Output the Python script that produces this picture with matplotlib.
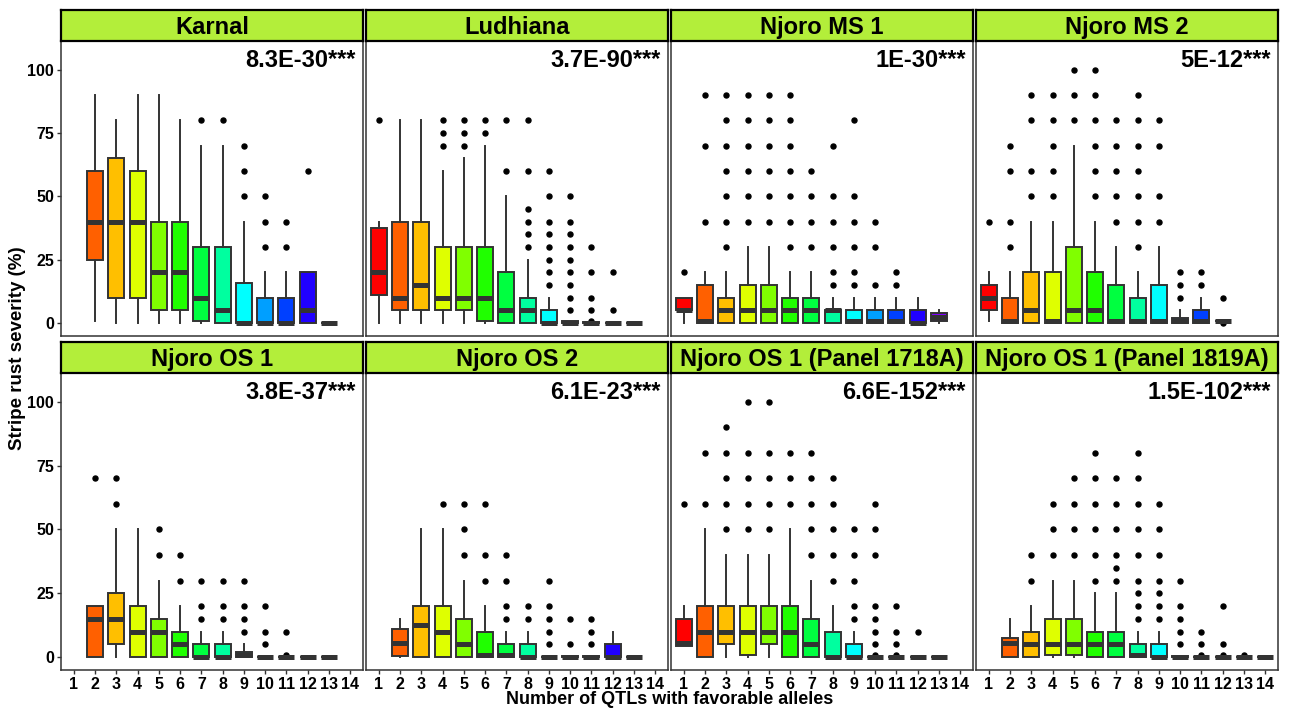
import matplotlib
matplotlib.use("Agg")
import matplotlib.pyplot as plt

plt.rcParams['font.family'] = ['Liberation Sans', 'DejaVu Sans']
plt.rcParams['font.weight'] = 'bold'

# fill colour for each number of favorable alleles (1..14)
GROUP_COLORS = ["#FF0000", "#FF6000", "#FFBF00", "#DFFF00", "#80FF00", "#20FF00", "#00FF40",
                "#00FF9F", "#00FFFF", "#009FFF", "#0040FF", "#2000FF", "#8000FF", "#DF00FF"]

PANEL_TITLES = ["Karnal", "Ludhiana", "Njoro MS 1", "Njoro MS 2",
                "Njoro OS 1", "Njoro OS 2", "Njoro OS 1 (Panel 1718A)", "Njoro OS 1 (Panel 1819A)"]
P_VALUES = ["8.3E-30***", "3.7E-90***", "1E-30***", "5E-12***",
            "3.8E-37***", "6.1E-23***", "6.6E-152***", "1.5E-102***"]

# rows: (n QTLs, whisker low, q1, median, q3, whisker high, outliers)
KARNAL = [
    (2, 1, 25, 40, 60, 90, []),
    (3, 0, 10, 40, 65, 80, []),
    (4, 0, 10, 40, 60, 90, []),
    (5, 0, 5, 20, 40, 90, []),
    (6, 0, 5, 20, 40, 80, []),
    (7, 0, 1, 10, 30, 70, [80]),
    (8, 0, 0, 5, 30, 70, [80]),
    (9, 0, 0, 0, 16, 40, [50, 60, 70]),
    (10, 0, 0, 0, 10, 20, [30, 40, 50]),
    (11, 0, 0, 0, 10, 20, [30, 40]),
    (12, 0, 0, 5, 20, 20, [60]),
    (13, 0, 0, 0, 0, 0, []),
]
LUDHIANA = [
    (1, 0, 11, 20, 37.5, 40, [80]),
    (2, 0, 5, 10, 40, 80, []),
    (3, 0, 5, 15, 40, 80, []),
    (4, 0, 5, 10, 30, 60, [70, 75, 80]),
    (5, 0, 5, 10, 30, 65, [70, 75, 80]),
    (6, 0, 1, 10, 30, 70, [75, 80]),
    (7, 0, 0, 5, 20, 50, [60, 80]),
    (8, 0, 0, 5, 10, 25, [30, 35, 40, 45, 60, 80]),
    (9, 0, 0, 0, 5, 10, [15, 20, 25, 30, 35, 40, 50, 60]),
    (10, 0, 0, 0, 1, 1, [5, 10, 15, 20, 25, 30, 35, 40, 50]),
    (11, 0, 0, 0, 0.5, 0.5, [1, 5, 10, 20, 30]),
    (12, 0, 0, 0, 0, 0, [5, 20]),
    (13, 0, 0, 0, 0, 0, []),
]
NJORO_MS1 = [
    (1, 0, 5, 5, 10, 10, [20]),
    (2, 0, 0, 1, 15, 20, [40, 70, 90]),
    (3, 0, 0, 5, 10, 20, [30, 40, 50, 60, 70, 80, 90]),
    (4, 0, 0, 5, 15, 30, [40, 50, 60, 70, 80, 90]),
    (5, 0, 0, 5, 15, 30, [40, 50, 60, 70, 80, 90]),
    (6, 0, 0, 5, 10, 20, [30, 40, 50, 60, 70, 80, 90]),
    (7, 0, 0, 5, 10, 20, [30, 40, 50, 60]),
    (8, 0, 0, 5, 5, 10, [15, 20, 30, 40, 50, 70]),
    (9, 0, 0, 1, 5, 10, [15, 20, 30, 40, 50, 80]),
    (10, 0, 0, 1, 5, 10, [15, 30, 40]),
    (11, 0, 0, 1, 5, 10, [15, 20]),
    (12, 0, 0, 0, 5, 10, []),
    (13, 0, 1, 2.5, 4, 5, []),
]
NJORO_MS2 = [
    (1, 1, 5, 10, 15, 20, [40]),
    (2, 0, 0, 1, 10, 20, [30, 40, 60, 70]),
    (3, 0, 0, 5, 20, 40, [50, 60, 80, 90]),
    (4, 0, 0, 1, 20, 40, [50, 60, 70, 80, 90]),
    (5, 0, 0, 5, 30, 70, [80, 90, 100]),
    (6, 0, 0, 5, 20, 40, [50, 60, 70, 80, 90, 100]),
    (7, 0, 0, 1, 15, 30, [40, 50, 60, 70, 80]),
    (8, 0, 0, 1, 10, 20, [30, 40, 50, 60, 70, 80, 90]),
    (9, 0, 0, 1, 15, 30, [40, 50, 70, 80]),
    (10, 0, 0, 1, 2, 5, [10, 15, 20]),
    (11, 0, 0, 1, 5, 10, [15, 20]),
    (12, 1, 1, 1, 1, 1, [0, 10]),
]
NJORO_OS1 = [
    (2, 0, 0, 15, 20, 20, [70]),
    (3, 0, 5, 15, 25, 50, [60, 70]),
    (4, 0, 0, 10, 20, 50, []),
    (5, 0, 0, 10, 15, 30, [40, 50]),
    (6, 0, 0, 5, 10, 20, [30, 40]),
    (7, 0, 0, 0, 5, 10, [15, 20, 30]),
    (8, 0, 0, 0, 5, 10, [15, 20, 30]),
    (9, 0, 0, 1, 2, 5, [10, 15, 20, 30]),
    (10, 0, 0, 0, 0, 0, [5, 10, 20]),
    (11, 0, 0, 0, 0, 0, [1, 10]),
    (12, 0, 0, 0, 0, 0, []),
    (13, 0, 0, 0, 0, 0, []),
]
NJORO_OS2 = [
    (2, 0, 0.5, 5.5, 11, 15, []),
    (3, 0, 0, 12.5, 20, 50, []),
    (4, 0, 0, 10, 20, 50, [60]),
    (5, 0, 0, 5, 15, 30, [40, 50, 60]),
    (6, 0, 0, 1, 10, 20, [30, 40, 60]),
    (7, 0, 0, 1, 5, 10, [15, 20, 30, 40]),
    (8, 0, 0, 0, 5, 10, [15, 20]),
    (9, 0, 0, 0, 0, 0, [5, 10, 15, 20, 30]),
    (10, 0, 0, 0, 0.5, 0.5, [5, 15]),
    (11, 0, 0, 0, 0.5, 0.5, [5, 10, 15]),
    (12, 0, 0, 0, 5, 10, []),
    (13, 0, 0, 0, 0, 0, []),
]
PANEL_1718A = [
    (1, 4.5, 4.5, 5.5, 15, 20, [60]),
    (2, 0, 0, 10, 20, 50, [60, 80]),
    (3, 0, 5, 10, 20, 40, [50, 60, 70, 80, 90]),
    (4, 0, 1, 10, 20, 40, [50, 60, 70, 80, 100]),
    (5, 0, 5, 10, 20, 40, [50, 60, 70, 80, 100]),
    (6, 0, 0, 10, 20, 50, [60, 70, 80]),
    (7, 0, 0, 5, 15, 30, [40, 50, 60, 70, 80]),
    (8, 0, 0, 0, 10, 20, [30, 40, 50, 60, 70]),
    (9, 0, 0, 0, 5, 10, [15, 20, 30, 40, 50]),
    (10, 0, 0, 0, 0, 0, [1, 5, 10, 15, 20, 40, 50, 60]),
    (11, 0, 0, 0, 0, 0, [1, 5, 10, 20]),
    (12, 0, 0, 0, 0, 0, [10]),
    (13, 0, 0, 0, 0, 0, []),
]
PANEL_1819A = [
    (2, 0, 0, 5.5, 7.5, 15, []),
    (3, 0, 0, 5, 10, 20, [30, 40]),
    (4, 0, 1, 5, 15, 30, [40, 50, 60]),
    (5, 0, 1, 5, 15, 30, [40, 50, 60, 70]),
    (6, 0, 0, 5, 10, 25, [30, 40, 50, 60, 70, 80]),
    (7, 0, 0, 5, 10, 25, [30, 35, 40, 50, 60, 70]),
    (8, 0, 0, 1, 5, 10, [15, 20, 25, 30, 40, 50, 60, 70, 80]),
    (9, 0, 0, 0, 5, 10, [15, 20, 25, 30, 40, 50, 60]),
    (10, 0, 0, 0, 0.5, 0.5, [5, 10, 15, 20, 30]),
    (11, 0, 0, 0, 0, 0, [1, 5, 10]),
    (12, 0, 0, 0, 0, 0, [1, 5, 20]),
    (13, 0, 0, 0, 0, 0, [1]),
    (14, 0, 0, 0, 0, 0, []),
]
PANELS = [KARNAL, LUDHIANA, NJORO_MS1, NJORO_MS2, NJORO_OS1, NJORO_OS2, PANEL_1718A, PANEL_1819A]

W, H = 1290, 711
fig = plt.figure(figsize=(W / 100, H / 100), dpi=100)

col_left = [61, 366, 671, 976]
pan_w = 302
rows = [(41, 336, 10), (373, 670, 342)]   # panel top, panel bottom, strip top
edge = "#333333"

for i, rows_data in enumerate(PANELS):
    r, c = divmod(i, 4)
    top, bot, stop = rows[r]
    ax = fig.add_axes([col_left[c] / W, 1 - bot / H, pan_w / W, (bot - top) / H])
    sax = fig.add_axes([col_left[c] / W, 1 - top / H, pan_w / W, (top - stop) / H])

    stats = [dict(med=m, q1=a, q3=b, whislo=lo, whishi=hi, fliers=out)
             for (_, lo, a, m, b, hi, out) in rows_data]
    pos = [row[0] for row in rows_data]
    res = ax.bxp(stats, positions=pos, widths=0.75, patch_artist=True, showcaps=False,
                 boxprops=dict(edgecolor=edge, linewidth=1.4),
                 whiskerprops=dict(color=edge, linewidth=1.4),
                 medianprops=dict(color=edge, linewidth=3.6, solid_capstyle="butt"),
                 flierprops=dict(marker="o", markersize=3.6, markerfacecolor="black",
                                 markeredgecolor="black", linestyle="none"))
    for patch, p in zip(res["boxes"], pos):
        patch.set_facecolor(GROUP_COLORS[p - 1])

    ax.set_xlim(0.4, 14.6)
    ax.set_ylim(-5.06, 111.3)
    ax.set_yticks([0, 25, 50, 75, 100])
    ax.set_xticks(range(1, 15))
    ax.set_xticklabels([str(k) for k in range(1, 15)])
    ax.tick_params(axis="both", length=3, width=1, color=edge, labelsize=11.5,
                   labelcolor="black", pad=2)
    if c != 0:
        ax.tick_params(axis="y", left=False, labelleft=False)
    if r == 0:
        ax.tick_params(axis="x", bottom=False, labelbottom=False)
    for sp in ax.spines.values():
        sp.set_color(edge)
        sp.set_linewidth(1.1)
    ax.text(14.25, 103.8, P_VALUES[i], ha="right", va="center", fontsize=17,
            fontweight="bold")

    sax.set_xticks([]); sax.set_yticks([])
    sax.set_facecolor("#B3EE3A")
    for sp in sax.spines.values():
        sp.set_color("black")
        sp.set_linewidth(1.6)
    sax.text(0.5, 0.45, PANEL_TITLES[i], transform=sax.transAxes, ha="center",
             va="center", fontsize=17, fontweight="bold")

fig.text(18 / W, 1 - 348 / H, "Stripe rust severity (%)", rotation=90, ha="center",
         va="center", fontsize=13.5, fontweight="bold")
fig.text(670 / W, 1 - 700 / H, "Number of QTLs with favorable alleles", ha="center",
         va="center", fontsize=13, fontweight="bold")

fig.savefig("out.png", dpi=100)
